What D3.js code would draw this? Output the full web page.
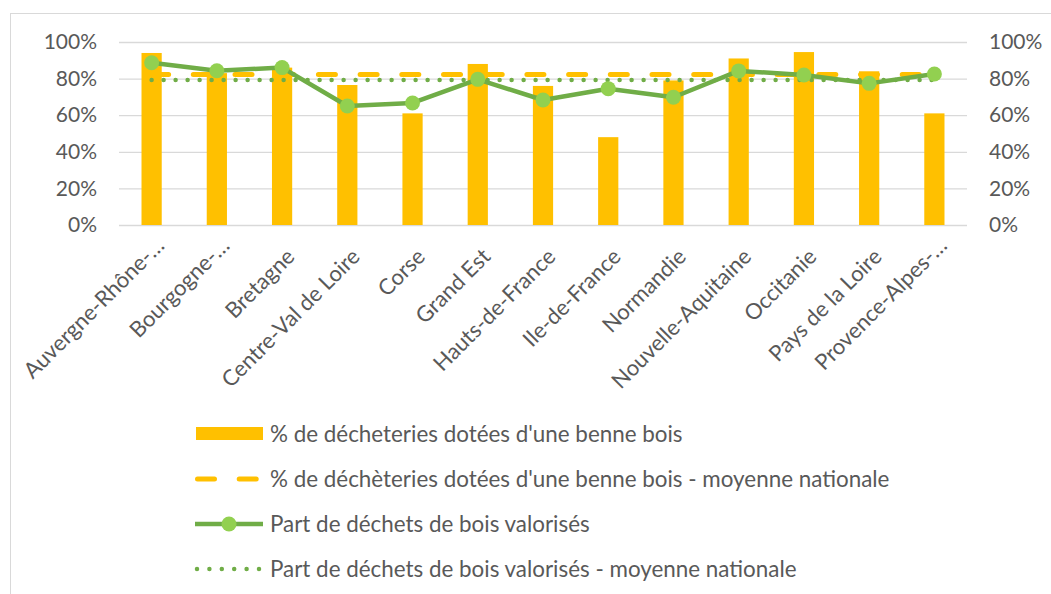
<!DOCTYPE html>
<html>
<head>
<meta charset="utf-8">
<script src="https://cdn.jsdelivr.net/npm/d3@7"></script>
<style>
  body { margin: 0; background: #fff; }
  text { font-family: Lato, "Noto Sans", sans-serif; fill: #595959; }
</style>
</head>
<body>
<div id="chart"></div>
<script>
// data
var regions = ["Auvergne-Rhône-…", "Bourgogne-…", "Bretagne", "Centre-Val de Loire", "Corse",
    "Grand Est", "Hauts-de-France", "Ile-de-France", "Normandie", "Nouvelle-Aquitaine",
    "Occitanie", "Pays de la Loire", "Provence-Alpes-…"];
var benneBois = [0.94, 0.83, 0.86, 0.765, 0.61, 0.88, 0.76, 0.48, 0.79, 0.91, 0.945, 0.84, 0.61];
var benneBoisMoyenne = 0.823;
var boisValorises = [0.887, 0.843, 0.86, 0.65, 0.667, 0.796, 0.683, 0.745, 0.698, 0.842, 0.82, 0.774, 0.825];
var boisValorisesMoyenne = 0.792;
var yTicks = [0, 0.2, 0.4, 0.6, 0.8, 1];
var legendLabels = ["% de décheteries dotées d'une benne bois",
    "% de déchèteries dotées d'une benne bois - moyenne nationale",
    "Part de déchets de bois valorisés",
    "Part de déchets de bois valorisés - moyenne nationale"];

var W = 1051, H = 594;
var plotLeft = 119, plotRight = 967, plotTop = 42, plotBottom = 225;

var svg = d3.select("#chart")
    .append("svg")
    .attr("width", W)
    .attr("height", H);

// chart frame
svg.append("rect")
    .attr("x", 10.5).attr("y", 13.5)
    .attr("width", 1200).attr("height", 800)
    .attr("fill", "none")
    .attr("stroke", "#D9D9D9")
    .attr("stroke-width", 1);

var x = d3.scaleBand().domain(regions).range([plotLeft, plotRight]).padding(0);
var y = d3.scaleLinear().domain([0, 1]).range([plotBottom, plotTop]);
var cx = function (d) { return x(d) + x.bandwidth() / 2; };

// gridlines
svg.append("g")
    .attr("transform", "translate(" + plotLeft + ",0)")
    .call(d3.axisLeft(y).tickValues(yTicks).tickSize(-(plotRight - plotLeft)).tickFormat(""))
    .call(g => g.select(".domain").remove())
    .selectAll("line").attr("stroke", "#D9D9D9").attr("stroke-width", 1.3);

// y axes (left and right)
var fmt = d3.format(".0%");
svg.append("g")
    .attr("transform", "translate(" + plotLeft + ",0)")
    .call(d3.axisLeft(y).tickValues(yTicks).tickSize(0).tickPadding(22).tickFormat(fmt))
    .call(g => g.select(".domain").remove())
    .selectAll("text").style("font-size", "21px").attr("font-family", null);

svg.append("g")
    .attr("transform", "translate(" + plotRight + ",0)")
    .call(d3.axisRight(y).tickValues(yTicks).tickSize(0).tickPadding(22).tickFormat(fmt))
    .call(g => g.select(".domain").remove())
    .selectAll("text").style("font-size", "21px").attr("font-family", null);

// bars
var barW = x.bandwidth() * 0.31;
svg.selectAll(".bar")
    .data(regions)
    .enter()
    .append("rect")
    .attr("class", "bar")
    .attr("x", d => cx(d) - barW / 2)
    .attr("y", (d, i) => y(benneBois[i]))
    .attr("width", barW)
    .attr("height", (d, i) => y(0) - y(benneBois[i]))
    .attr("fill", "#FFC000");

// national averages
svg.append("line")
    .attr("x1", cx(regions[0])).attr("x2", cx(regions[regions.length - 1]))
    .attr("y1", y(benneBoisMoyenne)).attr("y2", y(benneBoisMoyenne))
    .attr("stroke", "#FFC000")
    .attr("stroke-width", 5)
    .attr("stroke-linecap", "round")
    .attr("stroke-dasharray", "17 24.7");

svg.append("line")
    .attr("x1", cx(regions[0])).attr("x2", cx(regions[regions.length - 1]))
    .attr("y1", y(boisValorisesMoyenne)).attr("y2", y(boisValorisesMoyenne))
    .attr("stroke", "#70AD47")
    .attr("stroke-width", 4.5)
    .attr("stroke-linecap", "round")
    .attr("stroke-dasharray", "0 12");

// line series
var line = d3.line()
    .x((d, i) => cx(regions[i]))
    .y(d => y(d));

svg.append("path")
    .datum(boisValorises)
    .attr("d", line)
    .attr("fill", "none")
    .attr("stroke", "#70AD47")
    .attr("stroke-width", 4.5)
    .attr("stroke-linejoin", "round");

svg.selectAll(".pt")
    .data(boisValorises)
    .enter()
    .append("circle")
    .attr("class", "pt")
    .attr("cx", (d, i) => cx(regions[i]))
    .attr("cy", d => y(d))
    .attr("r", 7.5)
    .attr("fill", "#92D050");

// category labels, rotated (truncated ones sit a bit higher, like in the original)
svg.selectAll(".cat")
    .data(regions)
    .enter()
    .append("text")
    .attr("class", "cat")
    .attr("text-anchor", "end")
    .attr("transform", d => "translate(" + (cx(d) + 14) + "," + (d.endsWith("…") ? 247 : 258) + ") rotate(-45)")
    .style("font-size", "22px")
    .text(d => d);

// legend
var lx = 195, lw = 68, ly = [434, 479, 524, 569];
var leg = svg.append("g");

leg.append("rect")
    .attr("x", lx + 1).attr("y", ly[0] - 7)
    .attr("width", lw - 1).attr("height", 13)
    .attr("fill", "#FFC000");

leg.append("line")
    .attr("x1", lx + 2.5).attr("x2", lx + lw - 2.5)
    .attr("y1", ly[1]).attr("y2", ly[1])
    .attr("stroke", "#FFC000").attr("stroke-width", 5)
    .attr("stroke-linecap", "round")
    .attr("stroke-dasharray", "17 24.7");

leg.append("line")
    .attr("x1", lx).attr("x2", lx + lw)
    .attr("y1", ly[2]).attr("y2", ly[2])
    .attr("stroke", "#70AD47").attr("stroke-width", 4.5);

leg.append("circle")
    .attr("cx", lx + lw / 2).attr("cy", ly[2])
    .attr("r", 7.5).attr("fill", "#92D050");

leg.append("line")
    .attr("x1", lx + 2).attr("x2", lx + lw - 4)
    .attr("y1", ly[3]).attr("y2", ly[3])
    .attr("stroke", "#70AD47").attr("stroke-width", 4.5)
    .attr("stroke-linecap", "round")
    .attr("stroke-dasharray", "0 12.4");

leg.selectAll(".lt")
    .data(legendLabels)
    .enter()
    .append("text")
    .attr("class", "lt")
    .attr("x", 270)
    .attr("y", (d, i) => ly[i])
    .attr("dy", "0.35em")
    .style("font-size", "22.4px")
    .text(d => d);
</script>
</body>
</html>
